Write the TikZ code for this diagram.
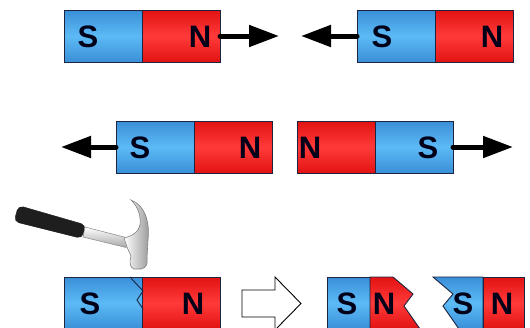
\documentclass[tikz,border=0pt]{standalone}
\usepackage{fontspec}
\setmainfont{Liberation Sans}
\usetikzlibrary{arrows.meta}

\definecolor{blueedge}{HTML}{3A8FD8}
\definecolor{bluemid}{HTML}{5CBAF5}
\definecolor{rededge}{HTML}{E21212}
\definecolor{redmid}{HTML}{FF3A3A}
\definecolor{magline}{HTML}{1C2440}
\definecolor{grip}{HTML}{1E1E1E}
\definecolor{steel}{HTML}{A8A8A8}

\tikzset{
  mag/.style={draw=magline, line width=0.9pt, minimum height=52pt, minimum width=78pt,
    inner sep=0pt, outer sep=0pt},
  southbox/.style={mag, top color=blueedge, bottom color=blueedge, middle color=bluemid},
  northbox/.style={mag, top color=rededge, bottom color=rededge, middle color=redmid},
  southfill/.style={draw=magline, line width=0.9pt, top color=blueedge, bottom color=blueedge, middle color=bluemid},
  northfill/.style={draw=magline, line width=0.9pt, top color=rededge, bottom color=rededge, middle color=redmid},
  pole/.style={font=\bfseries\fontsize{31}{31}\selectfont, text=black!90!blue, inner sep=0pt},
  push/.style={line width=5pt, line cap=round, -{Triangle[length=30pt,width=21pt]}},
  hollow/.style={draw=black, line width=0.9pt, fill=white},
}

\begin{document}
\begin{tikzpicture}[x=1pt, y=-1pt]
\useasboundingbox (0,0) rectangle (530,327);
\clip (0,0) rectangle (530,327);
\fill[white] (0,0) rectangle (530,327);

% ---- row 1: opposite pulls outward ----
\node[southbox] (s1) at (103,36) {};
\node[northbox] (n1) at (181,36) {};
\node[pole] (s1t) at (88,37) {S};
\node[pole] (n1t) at (200,37) {N};
\coordinate (e1) at (279,36);
\draw[push] (n1.east) -- (e1);

\node[southbox] (s2) at (396,36) {};
\node[northbox] (n2) at (474,36) {};
\node[pole] (s2t) at (382,37) {S};
\node[pole] (n2t) at (492,37) {N};
\coordinate (e2) at (301,36);
\draw[push] (s2.west) -- (e2);

% ---- row 2: south poles pointing outward ----
\node[southbox] (s3) at (155,147) {};
\node[northbox] (n3) at (233,147) {};
\node[pole] (s3t) at (140,148) {S};
\node[pole] (n3t) at (250,148) {N};
\coordinate (e3) at (61,147);
\draw[push] (s3.west) -- (e3);

\node[northbox] (n4) at (336,147) {};
\node[southbox] (s4) at (414,147) {};
\node[pole] (n4t) at (310,148) {N};
\node[pole] (s4t) at (428,148) {S};
\coordinate (e4) at (513,147);
\draw[push] (s4.east) -- (e4);

% ---- row 3: magnet about to be broken ----
\node[southbox] (s5) at (103,303) {};
\node[northbox] (n5) at (181,303) {};
\node[pole] (s5t) at (90,304) {S};
\node[pole] (n5t) at (193,304) {N};
\draw[magline, line width=0.9pt] (130,277) -- (143,291) -- (137,300) -- (143,309);

% hammer: grip, steel shaft, head
\draw[grip, fill=grip, rounded corners=5pt]
  (18.5,205.5) -- (86,225) -- (82,238.5) -- (14,221.5) -- cycle;
\shade[top color=white, bottom color=steel, draw=steel!80!black, line width=0.5pt]
  (85,227) -- (128,238) -- (126,247.5) -- (83,237) -- cycle;
\shade[left color=white, right color=steel!90!black, draw=gray, line width=0.6pt]
  (131,200) .. controls (145,205) and (150,222) .. (148,240)
  -- (147,258) .. controls (148,264) and (146,268) .. (141,269)
  -- (134,269) .. controls (130,268) and (129,262) .. (131,256)
  -- (127,247) -- (124,238)
  .. controls (132,236) and (139,232) .. (140,225)
  .. controls (141,215) and (138,207) .. (131,200) -- cycle;

% outline arrow
\draw[hollow] (242,290) -- (275,290) -- (275,277) -- (301,303.5)
  -- (275,330) -- (275,317) -- (242,317) -- cycle;

% ---- broken pieces ----
\path[southfill] (327,277) rectangle (370,329);
\path[northfill] (370,277) -- (393,277) -- (413,294) -- (404,306) -- (420,329)
  -- (370,329) -- cycle;
\node[pole] (s6t) at (347,304) {S};
\node[pole] (n6t) at (384,304) {N};

\path[southfill] (433,277) -- (483,277) -- (483,329) -- (459,329) -- (443,306)
  -- (453,294) -- cycle;
\path[northfill] (483,277) rectangle (524,329);
\node[pole] (s7t) at (463,304) {S};
\node[pole] (n7t) at (502,304) {N};
\end{tikzpicture}
\end{document}
